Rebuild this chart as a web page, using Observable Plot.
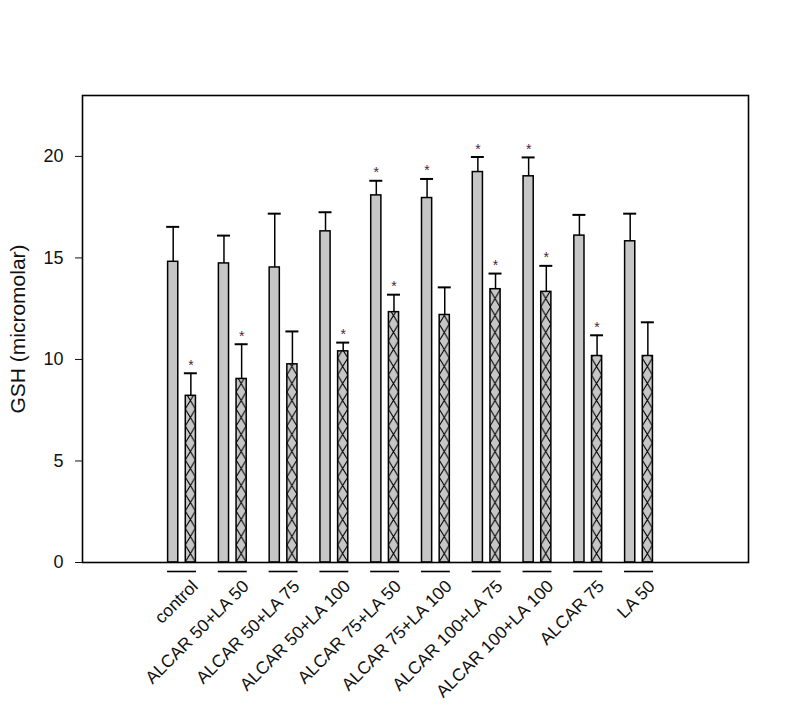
<!DOCTYPE html>
<html>
<head>
<meta charset="utf-8">
<script src="https://cdn.jsdelivr.net/npm/d3@7"></script>
<script src="https://cdn.jsdelivr.net/npm/@observablehq/plot@0.6"></script>
<style>
  html, body { margin: 0; padding: 0; background: #fff; }
  #chart { width: 800px; height: 707px; }
</style>
</head>
<body>
<div id="chart"></div>
<script>
const categories = ["control", "ALCAR 50+LA 50", "ALCAR 50+LA 75", "ALCAR 50+LA 100", "ALCAR 75+LA 50", "ALCAR 75+LA 100", "ALCAR 100+LA 75", "ALCAR 100+LA 100", "ALCAR 75", "LA 50"];
const solidMeans = [14.81, 14.73, 14.53, 16.31, 18.08, 17.95, 19.23, 19.02, 16.10, 15.82];
const solidErr   = [1.72, 1.37, 2.65, 0.94, 0.72, 0.94, 0.74, 0.93, 1.02, 1.36];
const solidSig   = [false, false, false, false, true, true, true, true, false, false];
const hatchMeans = [8.21, 9.04, 9.76, 10.40, 12.33, 12.19, 13.46, 13.33, 10.17, 10.17];
const hatchErr   = [1.11, 1.71, 1.62, 0.43, 0.86, 1.36, 0.77, 1.28, 1.02, 1.66];
const hatchSig   = [true, true, false, true, true, false, true, true, true, false];
const yTicks = [0, 5, 10, 15, 20];
const yLabel = "GSH (micromolar)";

const OFF = 0.174, HALF = 0.1, CAP = 0.128, LINE = 0.285;
const rows = [];
categories.forEach((c, i) => {
  rows.push({cat: c, i, series: "solid", x: i - OFF, v: solidMeans[i], top: solidMeans[i] + solidErr[i], sig: solidSig[i]});
  rows.push({cat: c, i, series: "hatch", x: i + OFF, v: hatchMeans[i], top: hatchMeans[i] + hatchErr[i], sig: hatchSig[i]});
});
const solid = rows.filter(d => d.series === "solid");
const hatch = rows.filter(d => d.series === "hatch");
const groups = categories.map((c, i) => ({cat: c, i}));

const font = "'Liberation Sans', Arial, sans-serif";
const plot = Plot.plot({
  width: 800,
  height: 707,
  marginLeft: 82,
  marginRight: 52,
  marginTop: 95,
  marginBottom: 145,
  style: {fontFamily: font, background: "#fff", color: "#111"},
  x: {type: "linear", domain: [-1.96, 11.156], axis: null},
  y: {domain: [0, 23]},
  marks: [
    Plot.rectY(solid, {x1: d => d.x - HALF, x2: d => d.x + HALF, y1: 0, y2: "v", fill: "#c6c6c6", stroke: "#000", strokeWidth: 1.5}),
    Plot.rectY(hatch, {x1: d => d.x - HALF, x2: d => d.x + HALF, y1: 0, y2: "v", fill: "#c6c6c6", stroke: "#000", strokeWidth: 1.5, ariaLabel: () => "hatched"}),
    Plot.ruleX(rows, {x: "x", y1: "v", y2: "top", stroke: "#000", strokeWidth: 1.5}),
    Plot.ruleY(rows, {y: "top", x1: d => d.x - CAP, x2: d => d.x + CAP, stroke: "#000", strokeWidth: 2}),
    Plot.text(rows.filter(d => d.sig), {x: "x", y: "top", text: () => "*", dy: -8, fontSize: 14, fill: "#4a2440"}),
    Plot.ruleY(groups, {y: 0, x1: d => d.i - LINE, x2: d => d.i + LINE, dy: 9, stroke: "#000", strokeWidth: 1.6}),
    Plot.text(groups, {x: "i", y: 0, text: "cat", rotate: -45, textAnchor: "end", dx: 13, dy: 21, fontSize: 17.5, fill: "#111"}),
    Plot.axisY({ticks: yTicks, tickSize: 7, tickPadding: 12, fontSize: 18, label: null}),
    Plot.text([yLabel], {frameAnchor: "left", textAnchor: "middle", dx: -64, rotate: -90, fontSize: 21, fill: "#111"}),
    Plot.frame({stroke: "#000", strokeWidth: 1.6})
  ]
});
document.getElementById("chart").appendChild(plot);

// hatch pattern: an X per cell, aligned to each hatched bar
const svg = d3.select(plot);
const defs = svg.insert("defs", ":first-child");
svg.selectAll("rect[aria-label='hatched']").each(function(_, k) {
  const r = d3.select(this);
  const rx = +r.attr("x"), ry = +r.attr("y"), rw = +r.attr("width"), rh = +r.attr("height");
  const ph = 17;
  const p = defs.append("pattern").attr("id", "hx" + k).attr("patternUnits", "userSpaceOnUse")
    .attr("x", rx).attr("y", ry + rh).attr("width", rw).attr("height", ph);
  p.append("rect").attr("width", rw).attr("height", ph).attr("fill", "#c6c6c6");
  p.append("path").attr("d", `M0,0L${rw},${ph}M${rw},0L0,${ph}`).attr("stroke", "#000").attr("stroke-width", 1.1).attr("fill", "none");
  r.attr("fill", `url(#hx${k})`);
});
</script>
</body>
</html>
